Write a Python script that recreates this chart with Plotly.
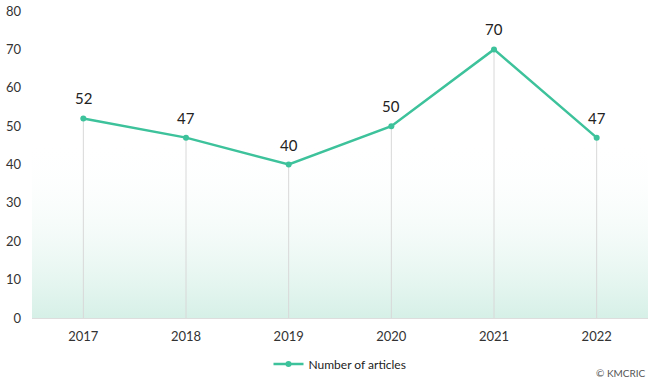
import plotly.graph_objects as go

years = [2017, 2018, 2019, 2020, 2021, 2022]
articles = [52, 47, 40, 50, 70, 47]
series_name = "Number of articles"
y_ticks = [0, 10, 20, 30, 40, 50, 60, 70, 80]

LINE = "#3DC29B"
FONT = "Lato"

fig = go.Figure()

# gradient background band
fig.add_trace(go.Scatter(
    x=[years[0] - 0.5, years[-1] + 0.5], y=[46, 46],
    mode="none", fill="tozeroy",
    fillgradient=dict(type="vertical",
                      colorscale=[[0, "rgba(214,240,231,1)"], [1, "rgba(255,255,255,0)"]]),
    hoverinfo="skip", showlegend=False,
))

# drop lines
fig.add_trace(go.Scatter(
    x=years, y=articles, mode="markers",
    marker=dict(size=0.1, color="rgba(0,0,0,0)"),
    error_y=dict(type="data", symmetric=False, array=[0] * len(articles),
                 arrayminus=articles, width=0, thickness=1, color="#d8d8d8"),
    hoverinfo="skip", showlegend=False,
))

fig.add_trace(go.Scatter(
    x=years, y=articles, mode="lines+markers", name=series_name,
    line=dict(color=LINE, width=2.5),
    marker=dict(color=LINE, size=6),
))

for x, v in zip(years, articles):
    fig.add_annotation(x=x, y=v, text=str(v), showarrow=False, yshift=20,
                       font=dict(family=FONT, size=15, color="#222"))

fig.add_annotation(xref="paper", yref="paper", x=1.0, y=-0.178, xanchor="right", yanchor="middle",
                   text="© KMCRIC", showarrow=False,
                   font=dict(family=FONT, size=10, color="#555"))

fig.update_layout(
    width=650, height=380,
    margin=dict(l=32, r=2, t=11, b=62, autoexpand=False),
    paper_bgcolor="white", plot_bgcolor="white",
    font=dict(family=FONT, size=13, color="#333"),
    showlegend=True,
    legend=dict(orientation="h", x=0.5, xanchor="center", y=-0.15, yanchor="middle",
                font=dict(family=FONT, size=12, color="#222")),
    xaxis=dict(range=[years[0] - 0.5, years[-1] + 0.5], tickvals=years, automargin=False,
               ticktext=[str(y) for y in years], showgrid=False, zeroline=False,
               showline=True, linecolor="#dddddd", linewidth=1, ticks="", ticklabelstandoff=6),
    yaxis=dict(range=[0, 80], tickvals=y_ticks, showgrid=False, zeroline=False, automargin=False,
               showline=False, ticks="", ticklabelstandoff=10),
)

fig.write_html("out.html", config={"displayModeBar": False},
               post_script="document.body.style.margin='0px';document.body.style.padding='0px';")
